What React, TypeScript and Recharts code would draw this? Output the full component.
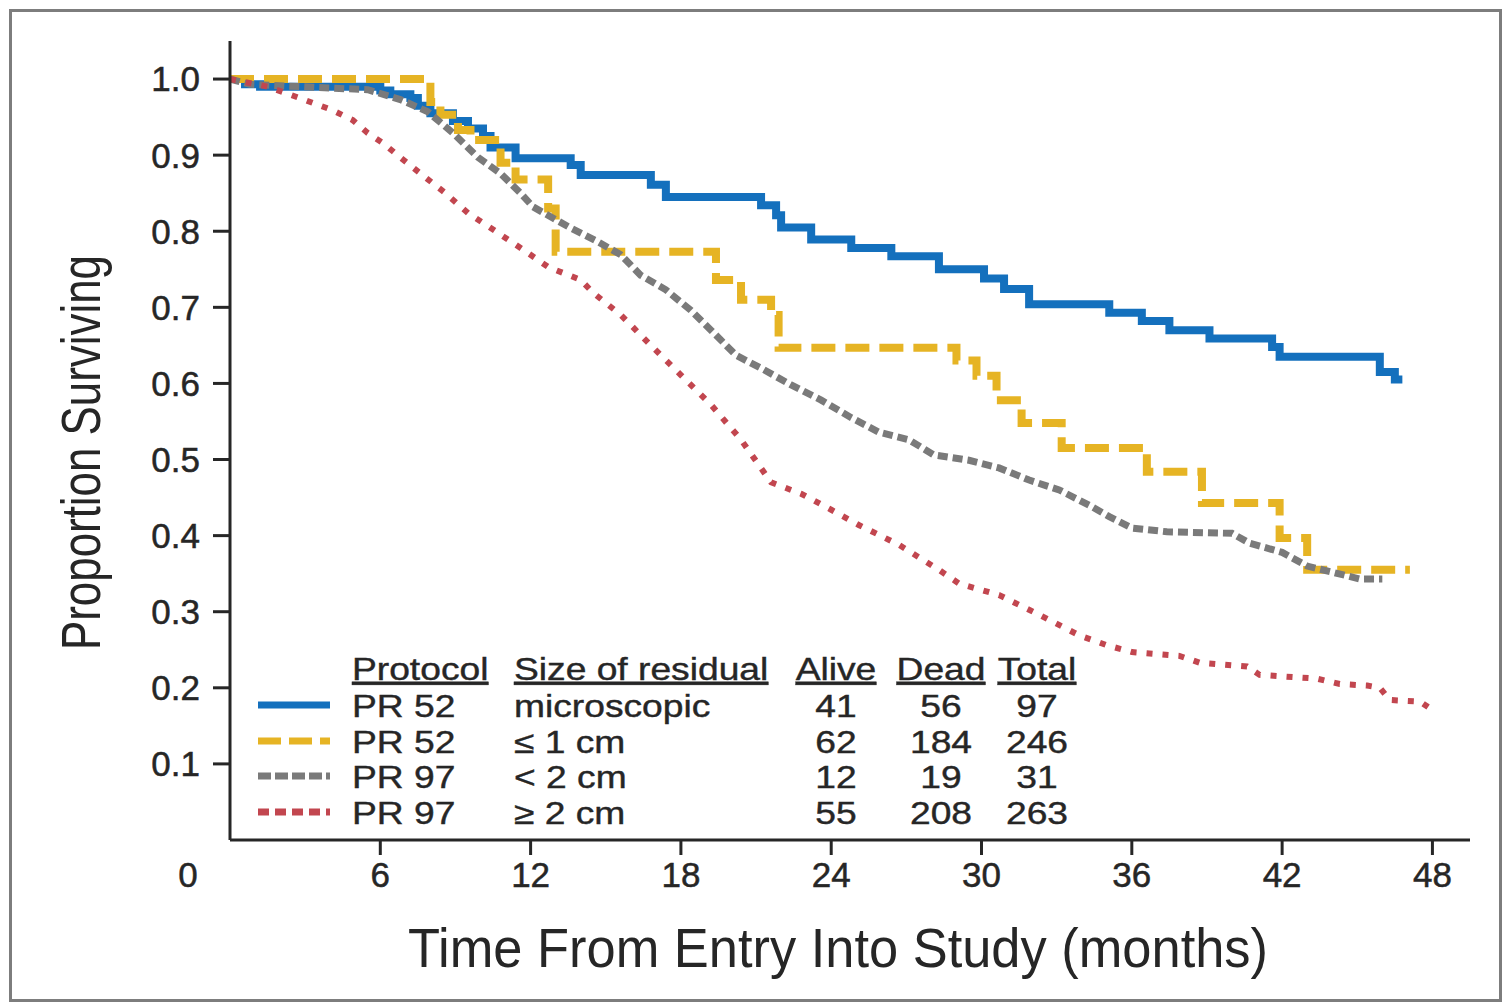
import React from "react";
import { LineChart, Line, XAxis, YAxis, Legend } from "recharts";

// axis ticks
const monthTicks = [0, 6, 12, 18, 24, 30, 36, 42, 48];
const survivalTicks = [0.1, 0.2, 0.3, 0.4, 0.5, 0.6, 0.7, 0.8, 0.9, 1.0];

// PR 52, microscopic residual
const microMonths = [0, 0.6, 1.2, 6.0, 6.4, 7.2, 7.5, 8.0, 8.9, 9.5, 10.1, 10.4, 11.4, 13.6, 14.0, 16.8, 17.4, 21.2, 21.8, 22.0, 23.2, 24.8, 26.4, 28.3, 30.1, 30.9, 31.9, 35.1, 36.4, 37.5, 39.1, 41.6, 41.9, 45.9, 46.5, 46.8];
const microSurv = [1.0, 0.993, 0.99, 0.985, 0.98, 0.975, 0.965, 0.955, 0.945, 0.935, 0.925, 0.91, 0.896, 0.887, 0.874, 0.861, 0.845, 0.834, 0.821, 0.805, 0.789, 0.778, 0.767, 0.75, 0.738, 0.724, 0.704, 0.693, 0.682, 0.67, 0.659, 0.648, 0.635, 0.615, 0.605, 0.605];

// PR 52, <= 1 cm
const oneCmMonths = [0, 8.0, 8.4, 9.1, 9.6, 10.8, 11.4, 12.7, 13.0, 19.4, 20.4, 21.6, 21.9, 29.0, 29.8, 30.6, 31.6, 33.2, 36.6, 38.8, 41.9, 43.0, 47.1];
const oneCmSurv = [1.0, 0.97, 0.953, 0.933, 0.92, 0.89, 0.868, 0.83, 0.773, 0.736, 0.71, 0.69, 0.647, 0.63, 0.61, 0.578, 0.548, 0.515, 0.484, 0.443, 0.397, 0.355, 0.355];

// PR 97, < 2 cm
const lt2Months = [0, 0.8, 2.8, 5.5, 6.8, 7.9, 8.9, 9.9, 10.8, 11.6, 12.1, 13.5, 14.7, 15.6, 16.4, 17.4, 18.4, 19.2, 20.2, 21.2, 22.4, 23.6, 24.8, 25.9, 27.1, 28.1, 29.5, 30.7, 31.9, 33.1, 34.3, 35.1, 36.0, 37.4, 40.0, 40.7, 42.0, 43.0, 44.0, 45.1, 46.0];
const lt2Surv = [1.0, 0.993, 0.99, 0.986, 0.973, 0.957, 0.929, 0.897, 0.876, 0.85, 0.832, 0.806, 0.786, 0.769, 0.742, 0.723, 0.696, 0.67, 0.637, 0.62, 0.598, 0.578, 0.555, 0.536, 0.526, 0.506, 0.499, 0.489, 0.473, 0.46, 0.44, 0.425, 0.41, 0.405, 0.403, 0.39, 0.378, 0.36, 0.352, 0.343, 0.343];

// PR 97, >= 2 cm
const ge2Months = [0, 1.5, 2.7, 4.1, 4.9, 5.5, 6.1, 6.8, 7.6, 8.6, 9.5, 10.6, 11.6, 12.7, 14.0, 14.5, 15.6, 16.8, 18.0, 19.2, 20.4, 21.6, 22.8, 24.0, 25.1, 26.7, 28.3, 29.1, 30.7, 32.3, 33.9, 35.0, 36.0, 37.9, 38.7, 40.6, 41.1, 43.4, 44.3, 45.4, 45.9, 46.3, 47.5, 47.9];
const ge2Surv = [1.0, 0.99, 0.976, 0.959, 0.946, 0.929, 0.916, 0.897, 0.876, 0.85, 0.824, 0.8, 0.778, 0.753, 0.736, 0.719, 0.69, 0.65, 0.611, 0.572, 0.526, 0.47, 0.455, 0.434, 0.414, 0.388, 0.355, 0.337, 0.322, 0.296, 0.269, 0.256, 0.247, 0.242, 0.233, 0.228, 0.217, 0.212, 0.205, 0.203, 0.2, 0.184, 0.182, 0.173];

// legend table
const protocols = ["PR 52", "PR 52", "PR 97", "PR 97"];
const residuals = ["microscopic", "\u2264 1 cm", "< 2 cm", "\u2265 2 cm"];
const alive = [41, 62, 12, 55];
const dead = [56, 184, 19, 208];
const total = [97, 246, 31, 263];

const zip = (t: number[], s: number[]) => t.map((m, i) => ({ t: m, s: s[i] }));

const series = [
  { key: "micro", data: zip(microMonths, microSurv), color: "#1470bd", width: 8, dash: undefined, legendDash: undefined, type: "stepAfter" },
  { key: "onecm", data: zip(oneCmMonths, oneCmSurv), color: "#e6b424", width: 8, dash: "24 10", legendDash: "23 8", type: "stepAfter" },
  { key: "lt2", data: zip(lt2Months, lt2Surv), color: "#7a7a7a", width: 7, dash: "10 5", legendDash: "13 4", type: "linear" },
  { key: "ge2", data: zip(ge2Months, ge2Surv), color: "#c2464f", width: 6, dash: "6 10", legendDash: "11 6", type: "linear" },
];

const FONT = '"Liberation Sans", Arial, Helvetica, sans-serif';
const NARROW = '"Liberation Sans Narrow", "Liberation Sans", Arial, sans-serif';
const INK = "#262626";

function XTick(props: any) {
  const { x, y, payload } = props;
  const v = payload.value;
  const label = (
    <text x={v === 0 ? x - 42 : x} y={y} dy="0.71em" textAnchor="middle" fill={INK} stroke={INK} strokeWidth={0.5} fontSize={35} fontFamily={FONT}>
      {v}
    </text>
  );
  if (v === 0) return label;
  return (
    <g>
      <line x1={x} x2={x} y1={y - 22} y2={y - 7} stroke={INK} strokeWidth={3} />
      {label}
    </g>
  );
}

function XTitle(props: any) {
  const vb = props.viewBox || {};
  return (
    <text x={vb.x + 608} y={vb.y + 127} textAnchor="middle" fill={INK} fontSize={56} fontFamily={NARROW} textLength={860} lengthAdjust="spacingAndGlyphs">
      Time From Entry Into Study (months)
    </text>
  );
}

function YTitle(props: any) {
  const vb = props.viewBox || {};
  const cx = vb.x - 30;
  const cy = vb.y + vb.height / 2 + 12;
  return (
    <text x={cx} y={cy} transform={`rotate(-90, ${cx}, ${cy})`} textAnchor="middle" fill={INK} fontSize={56} fontFamily={NARROW} textLength={395} lengthAdjust="spacingAndGlyphs">
      Proportion Surviving
    </text>
  );
}

// text stretched sideways like the original
function Wide({ x, y, anchor, children, underline }: any) {
  const k = 1.2;
  return (
    <text
      x={x / k}
      y={y}
      transform={`scale(${k},1)`}
      textAnchor={anchor || "start"}
      fill={INK}
      stroke={INK}
      strokeWidth={0.4}
      fontSize={31}
      fontFamily={FONT}
      style={underline ? { textDecoration: "underline" } : undefined}
    >
      {children}
    </text>
  );
}

function TableLegend() {
  const rows = [77, 113, 148, 184];
  return (
    <svg width={860} height={200} style={{ display: "block", overflow: "visible" }}>
      <Wide x={112} y={40} underline>Protocol</Wide>
      <Wide x={274} y={40} underline>Size of residual</Wide>
      <Wide x={596} y={40} anchor="middle" underline>Alive</Wide>
      <Wide x={701} y={40} anchor="middle" underline>Dead</Wide>
      <Wide x={797} y={40} anchor="middle" underline>Total</Wide>
      {series.map((s, i) => {
        const by = rows[i];
        return (
          <g key={s.key}>
            <line x1={18} x2={90} y1={by - 12} y2={by - 12} stroke={s.color} strokeWidth={7} strokeDasharray={s.legendDash} />
            <Wide x={112} y={by}>{protocols[i]}</Wide>
            <Wide x={274} y={by}>{residuals[i]}</Wide>
            <Wide x={596} y={by} anchor="middle">{alive[i]}</Wide>
            <Wide x={701} y={by} anchor="middle">{dead[i]}</Wide>
            <Wide x={797} y={by} anchor="middle">{total[i]}</Wide>
          </g>
        );
      })}
    </svg>
  );
}

export default function App() {
  return (
    <div style={{ position: "absolute", left: 0, top: 0, width: 1503, height: 1004, background: "#fff" }}>
      <LineChart width={1503} height={1004} margin={{ top: 41, right: 33, bottom: 104, left: 130 }}>
        <XAxis
          type="number"
          dataKey="t"
          domain={[0, 49.5]}
          ticks={monthTicks}
          interval={0}
          height={60}
          stroke={INK}
          strokeWidth={3}
          tickLine={false}
          tickSize={15}
          tickMargin={7}
          tick={<XTick />}
          label={<XTitle />}
        />
        <YAxis
          type="number"
          dataKey="s"
          domain={[0, 1.05]}
          ticks={survivalTicks}
          interval={0}
          width={100}
          stroke={INK}
          strokeWidth={3}
          tickSize={17}
          tickMargin={13}
          tickFormatter={(v: number) => v.toFixed(1)}
          tick={{ fill: INK, stroke: INK, strokeWidth: 0.5, fontSize: 35, fontFamily: FONT }}
          label={<YTitle />}
        />
        <Legend
          layout="vertical"
          align="center"
          verticalAlign="middle"
          content={<TableLegend />}
          wrapperStyle={{ left: 240, top: 640, width: 860, height: 200 }}
        />
        {series.map((s) => (
          <Line
            key={s.key}
            name={s.key}
            data={s.data}
            dataKey="s"
            type={s.type as any}
            stroke={s.color}
            strokeWidth={s.width}
            strokeDasharray={s.dash}
            strokeLinecap="butt"
            strokeLinejoin="miter"
            dot={false}
            activeDot={false}
            isAnimationActive={false}
          />
        ))}
      </LineChart>
      <div
        style={{
          position: "absolute",
          left: 9,
          top: 9,
          width: 1493,
          height: 993,
          border: "3px solid #7d7d7d",
          boxSizing: "border-box",
          pointerEvents: "none",
        }}
      />
    </div>
  );
}
